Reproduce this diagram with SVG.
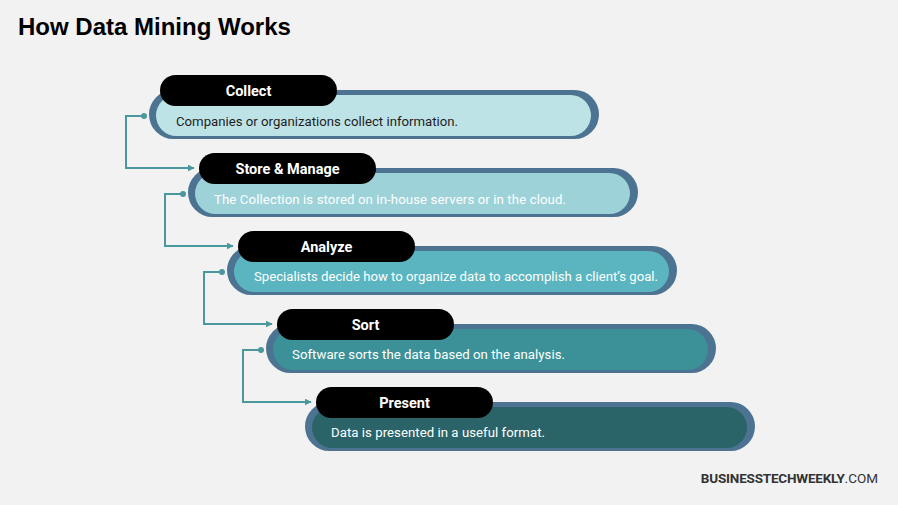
<svg xmlns="http://www.w3.org/2000/svg" width="898" height="505" viewBox="0 0 898 505">
<defs>
<style>
.outer{fill:#4c7391}
.lbl{fill:#000}
.lt{font-family:"Roboto","DejaVu Sans",sans-serif;font-weight:bold;font-size:14.5px;fill:#fff;text-anchor:middle}
.dt{font-family:"Roboto","DejaVu Sans",sans-serif;font-size:13.2px}
.con{fill:none;stroke:#4a979e;stroke-width:2}
.dot{fill:#4a979e}
</style>
<marker id="ah" viewBox="0 0 10 10" refX="9" refY="5" markerWidth="7" markerHeight="7" markerUnits="userSpaceOnUse" orient="auto">
<path d="M0,0 L10,5 L0,10 z" fill="#4a979e"/>
</marker>
</defs>
<rect width="898" height="505" fill="#f2f2f2"/>
<text x="18" y="35" font-family="Liberation Sans, Arial, sans-serif" font-weight="bold" font-size="24" fill="#000">How Data Mining Works</text>

<g id="connectors">
<path class="con" d="M144,116 H126 V168 H194" marker-end="url(#ah)"/>
<circle class="dot" cx="144" cy="116" r="3"/>
<path class="con" d="M183,194 H165 V246 H233" marker-end="url(#ah)"/>
<circle class="dot" cx="183" cy="194" r="3"/>
<path class="con" d="M222,272 H204 V324 H272" marker-end="url(#ah)"/>
<circle class="dot" cx="222" cy="272" r="3"/>
<path class="con" d="M261,350 H243 V402 H311" marker-end="url(#ah)"/>
<circle class="dot" cx="261" cy="350" r="3"/>
</g>

<g id="step1">
<rect class="outer" x="149" y="90" width="450" height="49" rx="24.5"/>
<rect x="156" y="95" width="435" height="41" rx="20.5" fill="#bee3e7"/>
<rect class="lbl" x="160" y="75" width="177" height="31" rx="15.5"/>
<text class="lt" x="248.5" y="96">Collect</text>
<text class="dt" x="176" y="126" fill="#1e1e1e">Companies or organizations collect information.</text>
</g>

<g id="step2">
<rect class="outer" x="188" y="168" width="450" height="49" rx="24.5"/>
<rect x="195" y="173" width="435" height="41" rx="20.5" fill="#9dd2d9"/>
<rect class="lbl" x="199" y="153" width="177" height="31" rx="15.5"/>
<text class="lt" x="287.5" y="174">Store &amp; Manage</text>
<text class="dt" x="214" y="204" fill="#ffffff" textLength="352">The Collection is stored on in-house servers or in the cloud.</text>
</g>

<g id="step3">
<rect class="outer" x="227" y="246" width="450" height="49" rx="24.5"/>
<rect x="234" y="251" width="435" height="41" rx="20.5" fill="#5ab5c0"/>
<rect class="lbl" x="238" y="231" width="177" height="31" rx="15.5"/>
<text class="lt" x="326.5" y="252">Analyze</text>
<text class="dt" x="254" y="281" fill="#ffffff" textLength="404">Specialists decide how to organize data to accomplish a client’s goal.</text>
</g>

<g id="step4">
<rect class="outer" x="266" y="324" width="450" height="49" rx="24.5"/>
<rect x="273" y="329" width="435" height="41" rx="20.5" fill="#3c9198"/>
<rect class="lbl" x="277" y="309" width="177" height="31" rx="15.5"/>
<text class="lt" x="365.5" y="330">Sort</text>
<text class="dt" x="292" y="359" fill="#ffffff" textLength="273">Software sorts the data based on the analysis.</text>
</g>

<g id="step5">
<rect class="outer" x="305" y="402" width="450" height="49" rx="24.5"/>
<rect x="312" y="407" width="435" height="41" rx="20.5" fill="#2a6468"/>
<rect class="lbl" x="316" y="387" width="177" height="31" rx="15.5"/>
<text class="lt" x="404.5" y="408">Present</text>
<text class="dt" x="331" y="437" fill="#ffffff" textLength="214">Data is presented in a useful format.</text>
</g>

<text x="878" y="483" text-anchor="end" font-family="Roboto, sans-serif" font-size="13.5" fill="#333"><tspan font-weight="bold" letter-spacing="-0.2">BUSINESSTECHWEEKLY</tspan><tspan>.COM</tspan></text>
</svg>
